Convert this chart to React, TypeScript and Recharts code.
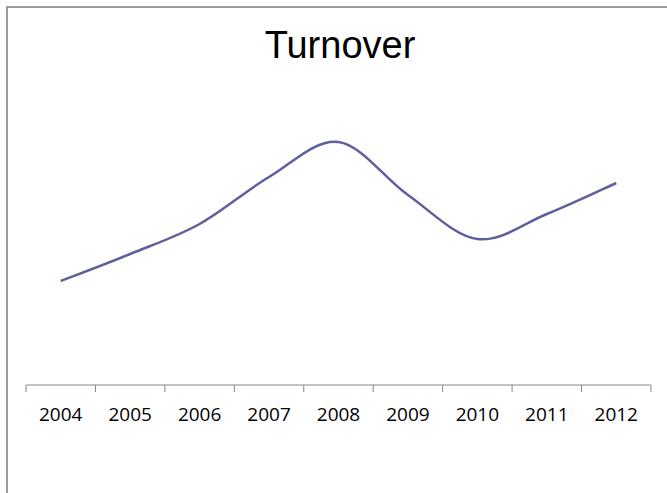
import React from 'react';
import { LineChart, Line, XAxis, YAxis } from 'recharts';

const years = ['2004', '2005', '2006', '2007', '2008', '2009', '2010', '2011', '2012'];
const turnover = [104, 131, 161, 208, 243, 190, 146, 171, 202];
const boundaryTicks = [-0.5, 0.5, 1.5, 2.5, 3.5, 4.5, 5.5, 6.5, 7.5, 8.5];
const centerTicks = [0, 1, 2, 3, 4, 5, 6, 7, 8];

const data = years.map((year, i) => ({ x: i, year, value: turnover[i] }));

// Excel-like smoothed line (Catmull-Rom / cardinal with 1/6 tension)
const excelSmooth = (context: any) => {
  let xs: number[] = [];
  let ys: number[] = [];
  return {
    areaStart() {},
    areaEnd() {},
    lineStart() {
      xs = [];
      ys = [];
    },
    point(x: number, y: number) {
      xs.push(+x);
      ys.push(+y);
    },
    lineEnd() {
      const n = xs.length;
      if (n === 0) return;
      context.moveTo(xs[0], ys[0]);
      if (n === 1) return;
      for (let i = 0; i < n - 1; i++) {
        const i0 = Math.max(i - 1, 0);
        const i3 = Math.min(i + 2, n - 1);
        const c1x = xs[i] + (xs[i + 1] - xs[i0]) / 6;
        const c1y = ys[i] + (ys[i + 1] - ys[i0]) / 6;
        const c2x = xs[i + 1] - (xs[i3] - xs[i]) / 6;
        const c2y = ys[i + 1] - (ys[i3] - ys[i]) / 6;
        context.bezierCurveTo(c1x, c1y, c2x, c2y, xs[i + 1], ys[i + 1]);
      }
    },
  };
};

export default function App() {
  return (
    <div
      style={{
        position: 'absolute',
        left: 0,
        top: 0,
        width: 667,
        height: 493,
        overflow: 'hidden',
        background: '#fff',
      }}
    >
      <div
        style={{
          position: 'absolute',
          left: 6,
          top: 6,
          width: 700,
          height: 520,
          border: '2px solid #9a9a9a',
          boxSizing: 'border-box',
        }}
      />
      <div
        style={{
          position: 'absolute',
          left: 0,
          top: 26,
          width: 680,
          textAlign: 'center',
          fontFamily: '"Liberation Sans", Arial, sans-serif',
          fontSize: 38,
          lineHeight: '38px',
          color: '#000',
        }}
      >
        Turnover
      </div>
      <div style={{ position: 'absolute', left: 0, top: 0 }}>
        <LineChart
          width={667}
          height={493}
          data={data}
          margin={{ top: 85, right: 16, bottom: 67, left: 26 }}
        >
          <XAxis
            xAxisId="a"
            dataKey="x"
            type="number"
            domain={[-0.5, 8.5]}
            ticks={boundaryTicks}
            interval={0}
            height={1}
            tickSize={7}
            tickFormatter={() => ''}
            axisLine={{ stroke: '#868686', strokeWidth: 1 }}
            tickLine={{ stroke: '#868686', strokeWidth: 1 }}
          />
          <XAxis
            xAxisId="b"
            dataKey="x"
            type="number"
            domain={[-0.5, 8.5]}
            ticks={centerTicks}
            interval={0}
            height={40}
            tickSize={7}
            tickMargin={15}
            axisLine={false}
            tickLine={false}
            tickFormatter={(v: number) => years[v]}
            tick={{ fill: '#000', fontSize: 19, fontFamily: '"Open Sans", sans-serif' }}
          />
          <YAxis hide domain={[0, 300]} />
          <Line
            xAxisId="a"
            dataKey="value"
            stroke="none"
            dot={false}
            activeDot={false}
            isAnimationActive={false}
          />
          <Line
            xAxisId="b"
            dataKey="value"
            type={excelSmooth as any}
            stroke="#5F5F9E"
            strokeWidth={2.5}
            dot={false}
            activeDot={false}
            isAnimationActive={false}
          />
        </LineChart>
      </div>
    </div>
  );
}
